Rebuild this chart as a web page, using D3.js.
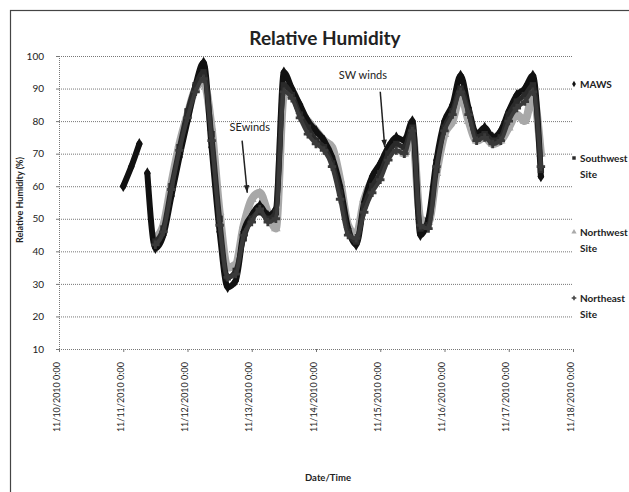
<html>

<head>
    <script src="https://d3js.org/d3.v7.min.js"></script>
    <style>
        body { margin: 0; background: #fff; }
        text { font-family: Lato, "Open Sans", sans-serif; fill: #222; }
        .gridlines line { stroke: #777; stroke-dasharray: 1,1; }
        .gridlines .domain { stroke: none; }
        .axis .domain { stroke: #777; stroke-dasharray: 1,1; }
        .axis line { stroke: #777; }
    </style>
</head>

<body>
    <svg height="492" width="629"></svg>

    <script>
        // hours after 11/11/2010 0:00
        const hours = [0, 3, 6, 9, 12, 15, 18, 21, 24, 27, 30, 33, 36, 39, 42, 45, 48, 51, 54, 57,
            60, 63, 66, 69, 72, 75, 78, 81, 84, 87, 90, 93, 96, 99, 102, 105, 108, 111, 114, 117,
            120, 123, 126, 129, 132, 135, 138, 141, 144, 147, 150, 153, 156];

        const maws = [60, 66, 73, 64, 41, 45, 57, 69, 80, 91, 98, 72, 46, 29, 31, 46, 51, 54, 51, 53,
            95, 90, 85, 80, 77, 74, 69, 60, 47, 42, 55, 63, 67, 72, 75, 74, 80, 45, 50, 68,
            80, 85, 94, 84, 76, 78, 75, 77, 83, 88, 90, 94, 63];
        const southwest = [null, null, null, null, 43, 47, 60, 72, 83, 91, 95, 76, 50, 32, 34, 44, 50, 52, 50, 52,
            91, 88, 82, 78, 74, 72, 67, 58, 46, 43, 54, 60, 64, 70, 73, 72, 78, 47, 48, 65,
            78, 83, 90, 83, 75, 76, 74, 75, 82, 86, 88, 91, 65];
        const northwest = [null, null, null, null, 44, 48, 61, 73, 82, 90, 92, 78, 52, 35, 36, 48, 56, 58, 52, 47,
            88, 89, 83, 80, 77, 74, 72, 62, 48, 45, 56, 62, 66, 70, 72, 70, 76, 50, 49, 64,
            76, 80, 88, 80, 74, 75, 73, 74, 78, 82, 80, 88, 70];
        const northeast = [null, null, null, null, 42, 46, 59, 71, 81, 89, 93, 74, 48, 32, 33, 45, 49, 53, 49, 50,
            89, 87, 81, 76, 73, 71, 66, 56, 45, 44, 52, 58, 62, 68, 71, 70, 77, 48, 47, 66,
            77, 82, 89, 82, 74, 75, 73, 74, 80, 84, 86, 89, 66];

        const seriesNames = ["MAWS", "Southwest Site", "Northwest Site", "Northeast Site"];
        const yTicks = [10, 20, 30, 40, 50, 60, 70, 80, 90, 100];

        const svg = d3.select("svg");
        const margins = { top: 56, left: 59 };
        const chartWidth = 514;
        const chartHeight = 293;

        // outer frame
        svg.append("rect")
            .attr("x", 10.5).attr("y", 10.5)
            .attr("width", 640).attr("height", 500)
            .attr("fill", "none").attr("stroke", "#444").attr("stroke-width", 1.2);

        const start = new Date(2010, 10, 10);
        const end = new Date(2010, 10, 18);
        const base = new Date(2010, 10, 11);
        const toDate = h => new Date(base.getTime() + h * 3600000);

        const xScale = d3.scaleTime().domain([start, end]).range([0, chartWidth]);
        const yScale = d3.scaleLinear().domain([10, 100]).range([chartHeight, 0]);

        let chartArea = svg.append("g")
            .attr("transform", `translate(${margins.left},${margins.top})`);

        // horizontal gridlines
        chartArea.append("g")
            .attr("class", "gridlines")
            .call(d3.axisLeft(yScale).tickValues(yTicks).tickFormat("").tickSize(-chartWidth));

        // left axis
        let leftAxis = chartArea.append("g")
            .attr("class", "axis")
            .call(d3.axisLeft(yScale).tickValues(yTicks).tickSize(3).tickPadding(12));
        leftAxis.selectAll("text").style("font-size", "10px").attr("fill", "#222");

        // bottom axis
        let bottomAxis = chartArea.append("g")
            .attr("class", "axis")
            .attr("transform", `translate(0,${chartHeight})`)
            .call(d3.axisBottom(xScale).ticks(d3.timeDay.every(1)).tickSize(3)
                .tickFormat(d => d3.timeFormat("%m/%d/%Y")(d) + " 0:00"));
        bottomAxis.selectAll("text")
            .style("font-size", "9px")
            .attr("fill", "#333")
            .attr("text-anchor", "end")
            .attr("transform", "rotate(-90)")
            .attr("x", -13)
            .attr("y", -3)
            .attr("dy", "0.35em");

        // series (light grey one drawn first so it shows only where it differs)
        const allSeries = [
            { name: seriesNames[2], values: northwest, color: "#a8a8a8", width: 8, symbol: d3.symbolTriangle },
            { name: seriesNames[0], values: maws, color: "#111", width: 6, symbol: d3.symbolDiamond },
            { name: seriesNames[1], values: southwest, color: "#2a2a2a", width: 5, symbol: d3.symbolSquare },
            { name: seriesNames[3], values: northeast, color: "#3a3a3a", width: 4, symbol: d3.symbolCross }
        ];

        const line = d3.line()
            .defined(d => d[1] !== null)
            .x(d => xScale(toDate(d[0])))
            .y(d => yScale(d[1]))
            .curve(d3.curveMonotoneX);

        allSeries.forEach(s => {
            const pts = hours.map((h, i) => [h, s.values[i]]);
            // MAWS has a short break after the first morning
            const segs = s.name === "MAWS" ? [pts.slice(0, 3), pts.slice(3)] : [pts];
            segs.forEach(seg => {
                chartArea.append("path")
                    .attr("d", line(seg))
                    .attr("fill", "none")
                    .attr("stroke", s.color)
                    .attr("stroke-width", s.width)
                    .attr("stroke-linejoin", "round")
                    .attr("stroke-linecap", "round");
            });
            pts.filter(d => d[1] !== null).forEach(d => {
                chartArea.append("path")
                    .attr("d", d3.symbol(s.symbol, 40)())
                    .attr("transform", `translate(${xScale(toDate(d[0]))},${yScale(d[1])})`)
                    .attr("fill", s.color);
            });
        });

        // annotations
        const arrow = (x1, y1, x2, y2) => {
            chartArea.append("line")
                .attr("x1", x1).attr("y1", y1).attr("x2", x2).attr("y2", y2)
                .attr("stroke", "#222").attr("stroke-width", 1.5);
            const a = Math.atan2(y2 - y1, x2 - x1);
            const p = [[x2, y2],
                [x2 - 8 * Math.cos(a - 0.35), y2 - 8 * Math.sin(a - 0.35)],
                [x2 - 8 * Math.cos(a + 0.35), y2 - 8 * Math.sin(a + 0.35)]];
            chartArea.append("path").attr("d", "M" + p.join("L") + "Z").attr("fill", "#222");
        };
        const day = d => new Date(start.getTime() + d * 86400000);

        chartArea.append("text")
            .attr("x", xScale(day(2.97))).attr("y", yScale(77))
            .attr("text-anchor", "middle").style("font-size", "11px")
            .text("SEwinds");
        arrow(xScale(day(2.85)), yScale(74), xScale(day(2.93)), yScale(58));

        chartArea.append("text")
            .attr("x", xScale(day(4.73))).attr("y", yScale(93))
            .attr("text-anchor", "middle").style("font-size", "11px")
            .text("SW winds");
        arrow(xScale(day(5.0)), yScale(89), xScale(day(5.07)), yScale(72));

        // title
        svg.append("text")
            .attr("x", 325).attr("y", 45)
            .attr("text-anchor", "middle")
            .style("font-size", "19px").style("font-weight", "bold").attr("fill", "#111")
            .text("Relative Humidity");

        svg.append("text")
            .attr("transform", "translate(23,200) rotate(-90)")
            .attr("text-anchor", "middle")
            .style("font-size", "9px").style("font-weight", "bold")
            .text("Relative Humidity (%)");

        svg.append("text")
            .attr("x", 328).attr("y", 481)
            .attr("text-anchor", "middle")
            .style("font-size", "9.5px").style("font-weight", "bold")
            .text("Date/Time");

        // legend
        const legendY = [84, 158, 232, 298];
        const legendSym = [d3.symbolDiamond, d3.symbolSquare, d3.symbolTriangle, d3.symbolCross];
        const legendCol = ["#111", "#2a2a2a", "#aaa", "#444"];
        seriesNames.forEach((name, i) => {
            svg.append("path")
                .attr("d", d3.symbol(legendSym[i], 12)())
                .attr("transform", `translate(574,${legendY[i]})`)
                .attr("fill", legendCol[i]);
            const words = name.split(" ");
            words.forEach((w, j) => {
                svg.append("text")
                    .attr("x", 580).attr("y", legendY[i] + 4 + j * 16)
                    .style("font-size", "10px").style("font-weight", "bold").attr("fill", "#222")
                    .text(w);
            });
        });
    </script>
</body>

</html>
